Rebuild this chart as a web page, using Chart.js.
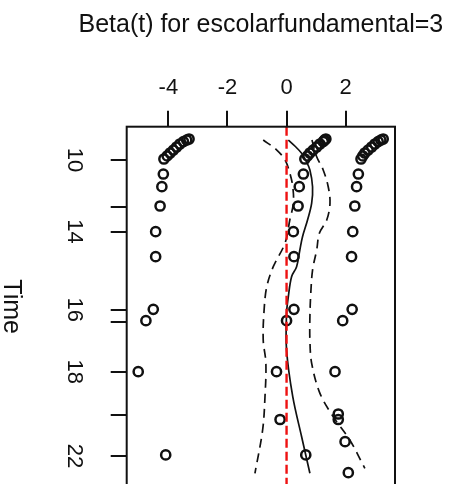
<!DOCTYPE html>
<html><head><meta charset="utf-8">
<script src="https://cdn.jsdelivr.net/npm/chart.js@4.4.1/dist/chart.umd.min.js"></script>
<style>
html,body{margin:0;padding:0;background:#fff;overflow:hidden;}
#wrap{position:relative;width:455px;height:500px;}
</style></head><body>
<div id="wrap"><canvas id="c"></canvas></div>
<script>
// ---- data (time on a transformed 0-100 scale, beta values) ----
const titleText = 'Beta(t) for escolarfundamental=3';
const timeAxisTitle = 'Time';
const betaTicks = [-4, -2, 0, 2];
const timeTickPos = [9.26, 22.2, 29.15, 50.9, 54.3, 68.1, 80.1, 91.5];
const timeTickLabels = ['10', '', '14', '16', '', '18', '', '22'];

// scaled Schoenfeld residuals
const residTime = [
  3.42, 3.70, 4.17, 4.81, 5.64, 6.48, 7.31, 8.14, 8.98,
  3.42, 3.70, 4.17, 4.81, 5.64, 6.48, 7.31, 8.14, 8.98,
  3.42, 3.70, 4.17, 4.81, 5.64, 6.48, 7.31, 8.14, 8.98,
  13.15, 13.15, 13.15,
  16.68, 16.68, 16.68,
  22.04, 22.04, 22.04,
  29.18, 29.18, 29.18,
  36.13, 36.13, 36.13,
  50.75, 50.75, 50.75,
  53.92, 53.92, 53.92,
  68.09, 68.09, 68.09,
  79.85,
  81.38, 81.38,
  87.55,
  91.22, 91.22,
  96.16
];
const residBeta = [
  -3.30, -3.38, -3.49, -3.61, -3.72, -3.83, -3.94, -4.04, -4.15,
  1.33, 1.28, 1.24, 1.13, 1.02, 0.90, 0.79, 0.71, 0.62,
  3.27, 3.19, 3.10, 2.99, 2.88, 2.76, 2.65, 2.58, 2.52,
  -4.17, 0.57, 2.43,
  -4.22, 0.43, 2.37,
  -4.28, 0.39, 2.31,
  -4.43, 0.23, 2.24,
  -4.43, 0.25, 2.20,
  -4.51, 0.25, 2.22,
  -4.76, 0.00, 1.90,
  -5.02, -0.34, 1.64,
  1.75,
  -0.22, 1.75,
  1.98,
  -4.09, 0.65,
  2.09
];

// smoothed beta(t)
const fitTime = [3.70, 5.36, 7.39, 9.53, 12.03, 16.68, 21.21, 25.93, 30.57, 34.26, 38.91, 41.69, 47.25, 51.86, 62.06, 75.04, 86.16, 96.33];
const fitBeta = [0.06, 0.28, 0.51, 0.66, 0.79, 0.88, 0.85, 0.71, 0.54, 0.45, 0.34, 0.17, 0.06, 0.00, 0.00, 0.21, 0.51, 0.79];
// lower / upper confidence bands
const lowerTime = [3.70, 6.48, 9.26, 12.87, 16.68, 21.29, 25.93, 32.32, 38.91, 44.47, 50.95, 59.28, 65.68, 75.04, 84.30, 96.33];
const lowerBeta = [-0.79, -0.33, -0.05, 0.11, 0.21, 0.23, 0.11, -0.05, -0.45, -0.67, -0.76, -0.79, -0.70, -0.73, -0.81, -1.07];
const upperTime = [3.70, 8.34, 12.03, 16.68, 21.29, 25.93, 29.63, 34.27, 39.83, 46.30, 52.81, 59.28, 65.76, 74.10, 80.60, 87.08, 94.94];
const upperBeta = [0.86, 1.02, 1.24, 1.41, 1.47, 1.36, 1.11, 1.02, 0.88, 0.82, 0.79, 0.79, 0.85, 1.13, 1.58, 2.14, 2.65];
const zeroLineTime = [0, 100];
const zeroLineBeta = [0, 0];

// ---- chart ----
const pts = (t, b) => t.map((v, i) => ({x: b[i], y: v}));
const FONT = "'Liberation Sans', Arial, Helvetica, sans-serif";
Chart.defaults.font.family = FONT;
Chart.defaults.color = '#111';

const boxPlugin = {
  id: 'box',
  afterDraw(chart) {
    const {ctx, chartArea: a} = chart;
    ctx.save();
    ctx.strokeStyle = '#111';
    ctx.lineWidth = 2;
    ctx.strokeRect(a.left, a.top, a.right - a.left, a.bottom - a.top);
    ctx.fillStyle = '#111';
    ctx.font = '25px ' + FONT;
    ctx.textAlign = 'center';
    ctx.textBaseline = 'alphabetic';
    // main title, centred over the plot region
    ctx.fillText(titleText, (a.left + a.right) / 2, 32);
    // rotated axis title
    ctx.translate(3.5, (a.top + a.bottom) / 2);
    ctx.rotate(Math.PI / 2);
    ctx.fillText(timeAxisTitle, 0, 0);
    ctx.restore();
  }
};

new Chart(document.getElementById('c'), {
  type: 'scatter',
  data: {
    datasets: [
      {data: pts(zeroLineTime, zeroLineBeta), showLine: true, borderColor: '#ee1111', borderWidth: 2.4,
       borderDash: [9, 4], pointRadius: 0, order: 0},
      {data: pts(fitTime, fitBeta), showLine: true, borderColor: '#111', borderWidth: 1.7,
       tension: 0.35, pointRadius: 0, order: 1},
      {data: pts(lowerTime, lowerBeta), showLine: true, borderColor: '#111', borderWidth: 1.7,
       borderDash: [9, 6], tension: 0.35, pointRadius: 0, order: 1},
      {data: pts(upperTime, upperBeta), showLine: true, borderColor: '#111', borderWidth: 1.7,
       borderDash: [9, 6], tension: 0.35, pointRadius: 0, order: 1},
      {data: pts(residTime, residBeta), showLine: false, pointStyle: 'circle', pointRadius: 4.6,
       pointBorderWidth: 2.5, pointBorderColor: '#111', pointBackgroundColor: 'rgba(0,0,0,0)', order: 2}
    ]
  },
  options: {
    responsive: true,
    maintainAspectRatio: false,
    animation: false,
    events: [],
    layout: {padding: {left: 0, right: 60, top: 48, bottom: 13.5}},
    plugins: {
      legend: {display: false},
      tooltip: {enabled: false},
      title: {display: false}
    },
    scales: {
      x: {
        type: 'linear', position: 'top', min: -5.41, max: 3.67,
        afterBuildTicks: s => { s.ticks = betaTicks.map(v => ({value: v})); },
        ticks: {font: {size: 22}, color: '#111', padding: 10, autoSkip: false, maxRotation: 0,
                callback: v => String(v)},
        grid: {drawOnChartArea: false, drawTicks: true, tickLength: 16, color: '#111', lineWidth: 2},
        border: {display: false},
        afterFit: s => { s.height = 78.7; s.paddingLeft = 0; s.paddingRight = 0; }
      },
      y: {
        type: 'linear', position: 'left', reverse: true, min: 0, max: 100,
        afterBuildTicks: s => { s.ticks = timeTickPos.map(v => ({value: v})); },
        ticks: {font: {size: 22}, color: '#111', padding: 24.75, autoSkip: false,
                minRotation: -90, crossAlign: 'center',
                callback: v => { const i = timeTickPos.indexOf(v); return i >= 0 ? timeTickLabels[i] : ''; }},
        grid: {drawOnChartArea: false, drawTicks: true, tickLength: 16, color: '#111', lineWidth: 2},
        border: {display: false},
        afterFit: s => { s.width = 126.7; s.paddingTop = 0; s.paddingBottom = 0; }
      }
    }
  },
  plugins: [boxPlugin]
});
</script>
</body></html>
